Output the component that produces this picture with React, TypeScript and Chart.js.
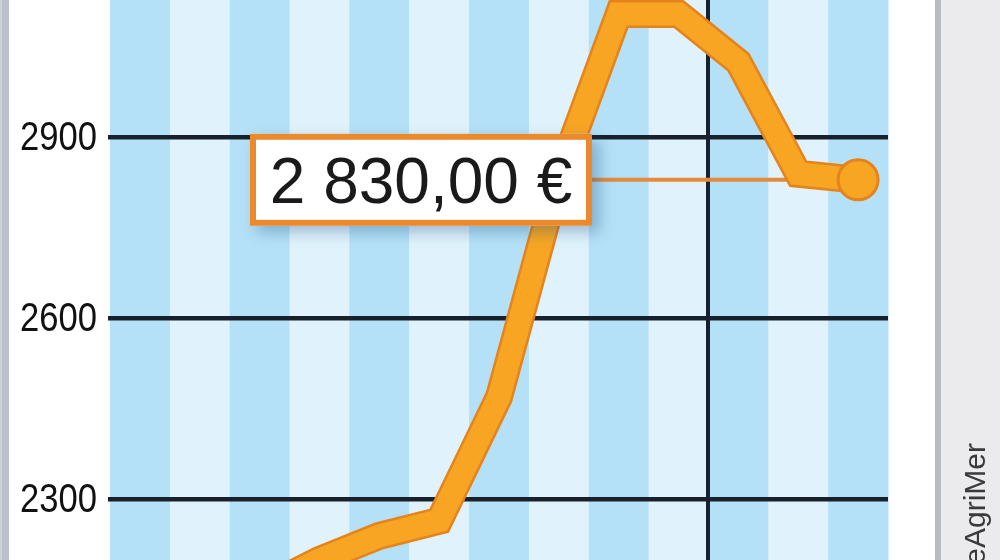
import React, { useEffect, useRef } from "react";
import { Chart, registerables } from "chart.js";

Chart.register(...registerables);

// ---- data ----
const months: string[] = [
  "mars", "avr.", "mai", "juin", "juil.", "août", "sept.", "oct.", "nov.", "déc.", "janv.", "févr.", "mars",
];
const prices: number[] = [2140, 2120, 2150, 2200, 2240, 2265, 2470, 2835, 3105, 3105, 3025, 2840, 2830];
const yTicks: number[] = [2300, 2600, 2900];
const sourceText = "FranceAgriMer";
const yearBreakIndex = 10;

// ---- styles ----
const STRIPE_DARK = "#b4e1f7";
const STRIPE_LIGHT = "#e0f3fc";
const GRID = "#17202b";
const ORANGE_OUT = "#e5831c";
const ORANGE_IN = "#f7a523";

function formatEuro(v: number): string {
  const [i, d] = v.toFixed(2).split(".");
  const intPart = i.replace(/\B(?=(\d{3})+(?!\d))/g, " ");
  return `${intPart},${d} €`;
}

const decorPlugin = {
  id: "decor",
  beforeDraw(chart: any) {
    const { ctx, chartArea, scales } = chart;
    const xs = scales.x;
    ctx.save();
    ctx.fillStyle = "#ffffff";
    ctx.fillRect(0, 0, chart.width, chart.height);
    // left grey edge
    ctx.fillStyle = "#bcc0cb";
    ctx.fillRect(0, 0, 9, chart.height);
    ctx.fillStyle = "#cdd0d8";
    ctx.fillRect(0, 0, 2, chart.height);
    // stripes
    const n = months.length;
    const w = (chartArea.right - chartArea.left) / n;
    for (let i = 0; i < n; i++) {
      const cx = xs.getPixelForValue(i);
      ctx.fillStyle = i % 2 === 0 ? STRIPE_DARK : STRIPE_LIGHT;
      ctx.fillRect(cx - w / 2, chartArea.top, w + 0.5, chartArea.bottom - chartArea.top);
    }
    // right panel
    ctx.fillStyle = "#b9bcc5";
    ctx.fillRect(935, 0, 6, chart.height);
    ctx.fillStyle = "#ebebee";
    ctx.fillRect(941, 0, chart.width - 941, chart.height);
    ctx.restore();
  },
  beforeDatasetsDraw(chart: any) {
    const { ctx, scales } = chart;
    const last = prices.length - 1;
    const px = scales.x.getPixelForValue(last);
    const py = scales.y.getPixelForValue(prices[last]);
    ctx.save();
    ctx.strokeStyle = "#e38a3b";
    ctx.lineWidth = 4;
    ctx.beginPath();
    ctx.moveTo(560, py);
    ctx.lineTo(px, py);
    ctx.stroke();
    ctx.restore();
  },
  afterDatasetsDraw(chart: any) {
    const { ctx, scales } = chart;
    const last = prices.length - 1;
    const py = scales.y.getPixelForValue(prices[last]);
    const bx = 250, bw = 342, bh = 92;
    const by = py - bh / 2;
    ctx.save();
    ctx.shadowColor = "rgba(30,80,130,0.35)";
    ctx.shadowBlur = 14;
    ctx.shadowOffsetX = 7;
    ctx.shadowOffsetY = 6;
    ctx.fillStyle = "#ffffff";
    ctx.fillRect(bx, by, bw, bh);
    ctx.shadowColor = "transparent";
    ctx.strokeStyle = "#ea8a2c";
    ctx.lineWidth = 6;
    ctx.strokeRect(bx + 3, by + 3, bw - 6, bh - 6);
    ctx.fillStyle = "#1a1a1a";
    ctx.font = '64px "Liberation Sans", Arial, sans-serif';
    ctx.textAlign = "center";
    ctx.textBaseline = "alphabetic";
    ctx.fillText(formatEuro(prices[last]), bx + bw / 2, py + 23);
    ctx.restore();
  },
  afterDraw(chart: any) {
    const { ctx, scales } = chart;
    // y tick labels (condensed)
    const ys = scales.y;
    ctx.save();
    ctx.fillStyle = "#111111";
    ctx.font = '40px "Liberation Sans", sans-serif';
    ctx.textAlign = "right";
    ctx.textBaseline = "middle";
    for (const t of ys.ticks) {
      const y = ys.getPixelForValue(t.value);
      ctx.save();
      ctx.translate(97, y + 1);
      ctx.scale(0.865, 1);
      ctx.fillText(String(t.value), 0, 0);
      ctx.restore();
    }
    ctx.restore();
    // source
    ctx.save();
    ctx.translate(985, 443);
    ctx.rotate(-Math.PI / 2);
    ctx.fillStyle = "#3a3a3a";
    ctx.font = '300 30px "Liberation Sans", sans-serif';
    ctx.textAlign = "right";
    ctx.textBaseline = "alphabetic";
    ctx.fillText(sourceText, 0, 0);
    ctx.restore();
  },
};

export default function App() {
  const ref = useRef<HTMLCanvasElement | null>(null);
  useEffect(() => {
    if (!ref.current) return;
    const last = prices.length - 1;
    const chart = new Chart(ref.current, {
      type: "line",
      data: {
        labels: months,
        datasets: [
          {
            data: prices,
            borderColor: ORANGE_IN,
            borderWidth: 23,
            borderJoinStyle: "miter",
            tension: 0,
            pointRadius: (c: any) => (c.dataIndex === last ? 20 : 0),
            pointBackgroundColor: ORANGE_IN,
            pointBorderColor: ORANGE_OUT,
            pointBorderWidth: 3,
            pointHoverRadius: 0,
            order: 1,
          },
          {
            data: prices,
            borderColor: ORANGE_OUT,
            borderWidth: 28,
            borderJoinStyle: "miter",
            tension: 0,
            pointRadius: 0,
            pointHoverRadius: 0,
            order: 2,
          },
        ],
      },
      options: {
        animation: false,
        responsive: false,
        events: [],
        layout: { autoPadding: false, padding: { left: 0, right: 112, top: 0, bottom: 0 } },
        plugins: { legend: { display: false }, tooltip: { enabled: false } },
        scales: {
          x: {
            type: "category",
            offset: true,
            border: { display: false },
            ticks: { display: false },
            grid: {
              offset: true,
              drawTicks: false,
              lineWidth: 4,
              color: (c: any) => (c.index === yearBreakIndex ? GRID : "rgba(0,0,0,0)"),
            },
            afterFit: (s: any) => {
              s.height = 0;
              s.paddingLeft = 0;
              s.paddingRight = 0;
            },
          },
          y: {
            min: 2200,
            max: 3128,
            border: { display: false },
            afterBuildTicks: (s: any) => {
              s.ticks = yTicks.map((v) => ({ value: v }));
            },
            afterFit: (s: any) => {
              s.width = 110;
              s.paddingTop = 0;
              s.paddingBottom = 0;
            },
            ticks: { display: false },
            grid: {
              color: GRID,
              lineWidth: 4.5,
              drawTicks: true,
              tickLength: 2,
              tickColor: GRID,
            },
          },
        },
      },
      plugins: [decorPlugin],
    } as any);
    return () => chart.destroy();
  }, []);
  return (
    <div style={{ position: "fixed", left: 0, top: 0, width: 1000, height: 560, background: "#fff" }}>
      <canvas ref={ref} width={1000} height={560} style={{ display: "block" }} />
    </div>
  );
}
